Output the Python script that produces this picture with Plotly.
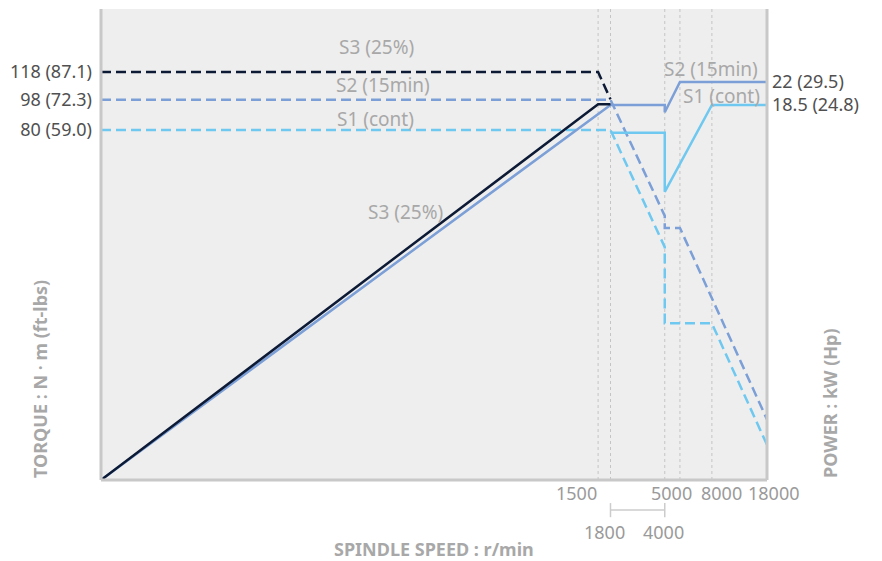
import math
import plotly.graph_objects as go

# ---------------- data ----------------
speed_ticks_row1 = [1500, 5000, 8000, 18000]
speed_ticks_row2 = [1800, 4000]
guide_speeds = [1500, 1800, 4000, 5000, 8000]

# torque curves (N·m) - dashed
s3_torque_rpm = [1, 1500, 1800]
s3_torque = [118, 118, 98.3]
s2_torque_rpm = [1, 1800, 4000, 4000, 5000, 18000]
s2_torque = [98, 98, 45, 41.5, 41.5, 11.5]
s1_torque_rpm = [1, 1800, 4000, 4000, 8000, 18000]
s1_torque = [80, 80, 36.5, 21.9, 21.9, 9.7]

# power curves (kW) - solid
s3_power_rpm = [1, 1500, 1800]
s3_power = [1.09, 18.6, 18.6]
s2_power_rpm = [1, 1800, 4000, 4000, 5000, 18000]
s2_power = [1.09, 18.5, 18.5, 17.5, 22, 22]
s1_power_rpm = [1800, 4000, 4000, 8000, 18000]
s1_power = [15, 15, 9.6, 18.5, 18.5]

torque_ticks = [118, 98, 80]
torque_labels = ["118 (87.1)", "98 (72.3)", "80 (59.0)"]
power_ticks = [22, 18.5]
power_labels = ["22 (29.5)", "18.5 (24.8)"]

# ---------------- style ----------------
C_S3 = "#0d1a35"
C_S2 = "#7b9fd6"
C_S1 = "#6fc8f0"
FONT = "Noto Sans"
DASH = "10px,5px"
LW = 2.5

fig = go.Figure()

def add(xs, ys, color, dash, axis):
    fig.add_trace(go.Scatter(x=xs, y=ys, mode="lines", yaxis=axis,
                             line=dict(color=color, width=LW, dash=dash),
                             showlegend=False, hoverinfo="skip"))

add(s1_torque_rpm, s1_torque, C_S1, DASH, "y")
add(s2_torque_rpm, s2_torque, C_S2, DASH, "y")
add(s3_torque_rpm, s3_torque, C_S3, DASH, "y")
add(s1_power_rpm, s1_power, C_S1, "solid", "y2")
add(s2_power_rpm, s2_power, C_S2, "solid", "y2")
add(s3_power_rpm, s3_power, C_S3, "solid", "y2")

shapes = []
for s in guide_speeds:
    shapes.append(dict(type="line", xref="x", yref="paper", x0=s, x1=s, y0=0, y1=1,
                       line=dict(color="#c4c4c4", width=1, dash="dot"), layer="below"))
# frame: left, bottom, right
border = dict(color="#c8c8c8", width=3)
shapes.append(dict(type="line", xref="paper", yref="paper", x0=0, x1=0, y0=0, y1=1, line=border))
shapes.append(dict(type="line", xref="paper", yref="paper", x0=0, x1=1, y0=0, y1=0, line=border))
shapes.append(dict(type="line", xref="paper", yref="paper", x0=1, x1=1, y0=0, y1=1, line=border))
# bracket between 1800 and 4000
br = dict(color="#cccccc", width=1.5)
shapes.append(dict(type="line", xref="x", yref="paper", x0=speed_ticks_row2[0], x1=speed_ticks_row2[1],
                   y0=-0.0637, y1=-0.0637, line=br))
for s in speed_ticks_row2:
    shapes.append(dict(type="line", xref="x", yref="paper", x0=s, x1=s, y0=-0.049, y1=-0.079, line=br))

ann = []
tick_font = dict(family=FONT, size=18, color="#9a9a9a")
row1_shift = {1500: 0, 5000: -8, 8000: 10, 18000: 6}
for s in speed_ticks_row1:
    if s == 1500:
        ann.append(dict(x=math.log10(s), y=0, xref="x", yref="paper", text=str(s), showarrow=False,
                        xanchor="right", yanchor="middle", yshift=-13, xshift=1, font=tick_font))
    else:
        ann.append(dict(x=math.log10(s), y=0, xref="x", yref="paper", text=str(s), showarrow=False,
                        xanchor="center", yanchor="middle", yshift=-13, xshift=row1_shift[s], font=tick_font))
row2_shift = {1800: -6, 4000: -1}
for s in speed_ticks_row2:
    ann.append(dict(x=math.log10(s), y=0, xref="x", yref="paper", text=str(s), showarrow=False,
                    xanchor="center", yanchor="middle", yshift=-52, xshift=row2_shift[s], font=tick_font))

title_font = dict(family=FONT, size=18, color="#a8a8a8", weight="bold")
ann.append(dict(x=0.5, y=0, xref="paper", yref="paper", text="SPINDLE SPEED : r/min", showarrow=False,
                xanchor="center", yanchor="middle", yshift=-69, font=title_font))
ann.append(dict(x=0, y=0, xref="paper", yref="paper", text="TORQUE : N · m (ft-lbs)", showarrow=False,
                textangle=-90, xanchor="center", yanchor="bottom", xshift=-61, font=title_font))
ann.append(dict(x=1, y=0, xref="paper", yref="paper", text="POWER : kW (Hp)", showarrow=False,
                textangle=-90, xanchor="center", yanchor="bottom", xshift=63, font=title_font))

label_font = dict(family=FONT, size=19, color="#a8a8a8")
series_labels = [
    ("S3 (25%)", 0.4144, 0.9193),
    ("S2 (15min)", 0.4234, 0.8386),
    ("S1 (cont)", 0.4129, 0.7665),
    ("S3 (25%)", 0.4565, 0.5690),
    ("S2 (15min)", 0.9159, 0.8726),
    ("S1 (cont)", 0.9324, 0.8153),
]
for t, x, y in series_labels:
    ann.append(dict(x=x, y=y, xref="paper", yref="paper", text=t, showarrow=False,
                    xanchor="center", yanchor="middle", font=label_font))

ylab_font = dict(family=FONT, size=18, color="#505050")

# the page body has an 8px margin: figure drawn at (8, 8)
fig.update_layout(
    width=874, height=553, autosize=False,
    margin=dict(l=93, r=115, t=1, b=81),
    paper_bgcolor="white", plot_bgcolor="#eeeeee",
    showlegend=False,
    xaxis=dict(type="log", range=[0, math.log10(18000)], showgrid=False, zeroline=False,
               showticklabels=False, showline=False, ticks="", automargin=False),
    yaxis=dict(type="log", range=[0.8845, 2.2553], showgrid=False, zeroline=False, showline=False,
               tickmode="array", tickvals=torque_ticks, ticktext=torque_labels, ticks="",
               tickfont=ylab_font, ticklabelstandoff=8, automargin=False),
    yaxis2=dict(type="log", range=[0.0374, 1.5817], overlaying="y", side="right",
                showgrid=False, zeroline=False, showline=False,
                tickmode="array", tickvals=power_ticks, ticktext=power_labels, ticks="",
                tickfont=ylab_font, ticklabelstandoff=4, automargin=False),
    shapes=shapes,
    annotations=ann,
)

fig.write_html("out.html")
